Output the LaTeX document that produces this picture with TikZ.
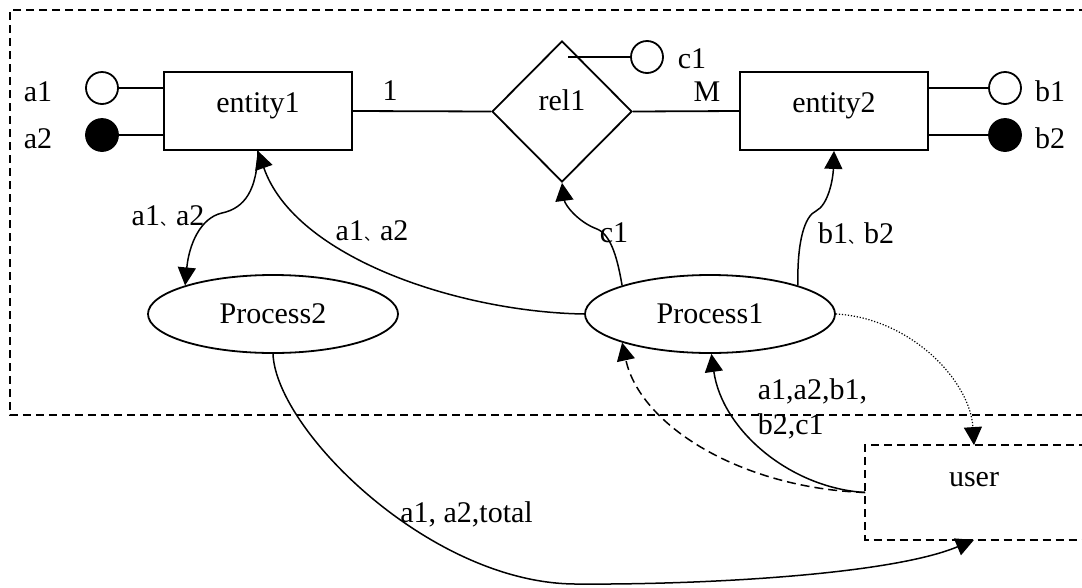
\documentclass[tikz,border=0pt]{standalone}
\usepackage{fontspec}
\setmainfont{Liberation Serif}
\newfontfamily\cjk{Noto Sans CJK SC}
\usetikzlibrary{shapes.geometric,arrows.meta}
\newcommand\dunhao{{\cjk\fontsize{16}{16}\selectfont 、}}
\begin{document}
\begin{tikzpicture}[x=1pt,y=-1pt,
  font=\fontsize{30}{35}\selectfont,
  line width=1.8pt,
  entbox/.style={draw, rectangle, minimum width=188pt, minimum height=78pt, inner sep=0pt, text height=20pt, text depth=16.6pt},
  relbox/.style={draw, diamond, minimum width=140pt, minimum height=141pt, inner sep=0pt, text height=20pt, text depth=23pt},
  procbox/.style={draw, ellipse, minimum width=250pt, minimum height=78pt, inner sep=0pt, text height=20pt, text depth=2pt},
  userbox/.style={rectangle, minimum width=216pt, minimum height=93pt, inner sep=0pt, text height=13.5pt, text depth=26.5pt},
  attr/.style={draw, circle, minimum size=32pt, inner sep=0pt},
  attrkey/.style={attr, fill=black},
  lbl/.style={inner sep=0pt, anchor=base},
  flow/.style={line width=1.5pt, -{Triangle[length=18pt,width=18pt]}},
  framedash/.style={line width=1.8pt, dash pattern=on 8pt off 5pt},
  dashflow/.style={flow, dash pattern=on 9pt off 5pt},
  dotflow/.style={flow, line width=1.2pt, dash pattern=on 1.2pt off 1.8pt}
]
\useasboundingbox (0,0) rectangle (1082,587);
\fill[white] (0,0) rectangle (1082,587);

% outer dashed frame
\draw[framedash] (1100,10) -- (10,10) -- (10,415) -- (1100,415);

% main nodes
\node[entbox] (e1) at (258,111) {entity1};
\node[entbox] (e2) at (834,111) {entity2};
\node[relbox] (r1) at (562,111.5) {rel1};
\node[procbox] (p2) at (273,314) {Process2};
\node[procbox] (p1) at (710,314) {Process1};
\node[userbox] (user) at (974,492.5) {user};
\draw[framedash] ([xshift=30pt]user.north east) -- (user.north west) -- (user.south west) -- ([xshift=30pt]user.south east);

% attributes
\node[attr] (a1) at (102,88) {};
\node[attrkey] (a2) at (102,135) {};
\node[attr] (b1) at (1005,88) {};
\node[attrkey] (b2) at (1005,135) {};
\node[attr] (c1) at (647,57) {};
\coordinate (c1s) at (568,57);

\draw (a1) -- (a1 -| e1.west);
\draw (a2) -- (a2 -| e1.west);
\draw (b1) -- (b1 -| e2.east);
\draw (b2) -- (b2 -| e2.east);
\draw (c1s) -- (c1);
\draw (e1.east) -- (r1.west);
\draw (r1.east) -- (e2.west);

% attribute and cardinality labels
\node[lbl] (la1) at (38,101.7) {a1};
\node[lbl] (la2) at (38,148) {a2};
\node[lbl] (lb1) at (1050,101.7) {b1};
\node[lbl] (lb2) at (1050,148) {b2};
\node[lbl] (lc1) at (692,68) {c1};
\node[lbl] (lone) at (390,100) {1};
\node[lbl] (lM) at (707,101.7) {M};

% data flows
\draw[flow] (e1.south) .. controls (257,190) and (245,208) .. (222,213)
  .. controls (200,218) and (189,245) .. (p2.162);
\draw[flow] (p1.west) .. controls (460,312) and (295,258) .. (e1.south);
\draw[flow] (p1.162) .. controls (618,262) and (612,235) .. (597,229)
  .. controls (578,222) and (565,205) .. (r1.south);
\draw[flow] (p1.18) .. controls (797,240) and (805,216) .. (816,211)
  .. controls (828,205) and (833,180) .. (e2.south);
\draw[dotflow] (p1.east) .. controls (910,318) and (970,380) .. (user.north);
\draw[flow] (user.west) .. controls (790,488) and (722,430) .. (p1.272);
\draw[dashflow] (user.west) .. controls (740,488) and (640,425) .. (p1.198);
\draw[flow] (p2.south) .. controls (276,430) and (430,583) .. (575,584)
  .. controls (700,585) and (890,575) .. (user.south);

% flow labels
\node[lbl] (f1) at (168,225) {a1\dunhao a2};
\node[lbl] (f2) at (372,240) {a1\dunhao a2};
\node[lbl] (f3) at (614,242) {c1};
\node[lbl] (f4) at (856,243) {b1\dunhao b2};
\node[inner sep=0pt, anchor=north west, align=left] (f5) at (757,377.5) {a1,a2,b1,\\b2,c1};
\node[lbl] (f6) at (466.5,522) {a1, a2,total};
\end{tikzpicture}
\end{document}
